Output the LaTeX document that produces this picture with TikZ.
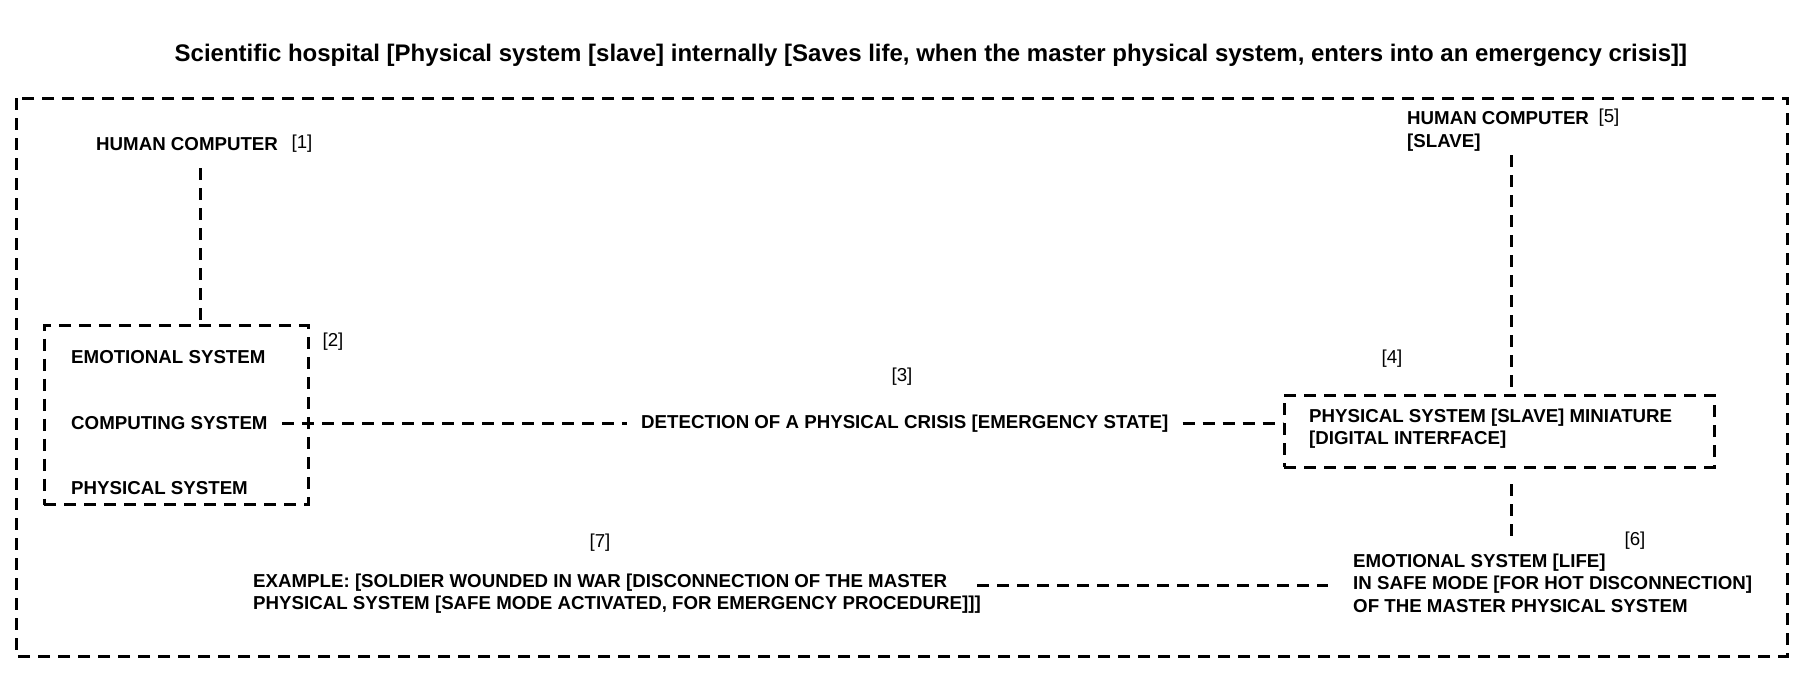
\documentclass[tikz,border=0pt]{standalone}
\usepackage{fontspec}
\setmainfont{Liberation Sans}
\tikzset{
  dashline/.style={line width=3pt, dash pattern=on 12pt off 8pt},
  dashbox/.style={draw, line width=3pt, dash pattern=on 12pt off 8pt, inner sep=0pt},
  txt/.style={font=\bfseries\fontsize{18.7}{22.5}\selectfont, align=left, inner xsep=14pt, inner ysep=0pt},
  num/.style={font=\fontsize{18.7}{22.5}\selectfont, inner sep=0pt},
}
\begin{document}
\begin{tikzpicture}[x=1pt,y=-1pt]
\useasboundingbox (0,0) rectangle (1814,683);

\node[font=\bfseries\fontsize{24}{28}\selectfont] (title) at (931,55)
  {Scientific hospital [Physical system [slave] internally [Saves life, when the master physical system, enters into an emergency crisis]]};

\draw[dashline] (16,98) rectangle (1787,656);

% left side
\node[txt, anchor=west] (hc1) at (82,144) {HUMAN COMPUTER};
\node[num] (n1) at (302,144) {[1]};
\node[dashbox, minimum width=264pt, minimum height=179pt] (sys) at (176,415) {};
\node[txt, anchor=west] (emo) at (57,357) {EMOTIONAL SYSTEM};
\node[txt, anchor=west] (comp) at (57,423) {COMPUTING SYSTEM};
\node[txt, anchor=west] (phys) at (57,488) {PHYSICAL SYSTEM};
\node[num] (n2) at (333,342) {[2]};
\coordinate (c1) at (200,168);
\draw[dashline] (c1) -- (c1 |- sys.north);

% middle
\node[txt, anchor=west] (det) at (627,424) {DETECTION OF A PHYSICAL CRISIS [EMERGENCY STATE]};
\node[num] (n3) at (902,377) {[3]};
\draw[dashline] (comp.east) -- (comp.east -| det.west);

% right side
\node[dashbox, minimum width=430pt, minimum height=72pt] (mini) at (1499,431) {};
\node[txt, anchor=west] (minitxt) at (1295,428.5) {PHYSICAL SYSTEM [SLAVE] MINIATURE\\{}[DIGITAL INTERFACE]};
\node[num] (n4) at (1392,359) {[4]};
\draw[dashline] (comp.east -| det.east) -- (comp.east -| mini.west);

\node[txt, anchor=west] (hc5) at (1393,131.5) {HUMAN COMPUTER\\{}[SLAVE]};
\node[num] (n5) at (1609,118) {[5]};
\coordinate (c5) at (1511,155);
\draw[dashline] (c5) -- (c5 |- mini.north);

\node[txt, anchor=west] (emo6) at (1339,583) {EMOTIONAL SYSTEM [LIFE]\\IN SAFE MODE [FOR HOT DISCONNECTION]\\OF THE MASTER PHYSICAL SYSTEM};
\node[num] (n6) at (1635,541) {[6]};
\coordinate (c6) at (1511,484);
\draw[dashline] (c6) -- (1511,539);

% bottom
\node[txt, anchor=west] (ex7) at (239,593.5) {EXAMPLE: [SOLDIER WOUNDED IN WAR [DISCONNECTION OF THE MASTER\\PHYSICAL SYSTEM [SAFE MODE ACTIVATED, FOR EMERGENCY PROCEDURE]]]};
\node[num] (n7) at (600,543) {[7]};
\coordinate (c7) at (977,585);
\draw[dashline, shorten >=11pt] (c7) -- (c7 -| emo6.west);

\end{tikzpicture}
\end{document}
